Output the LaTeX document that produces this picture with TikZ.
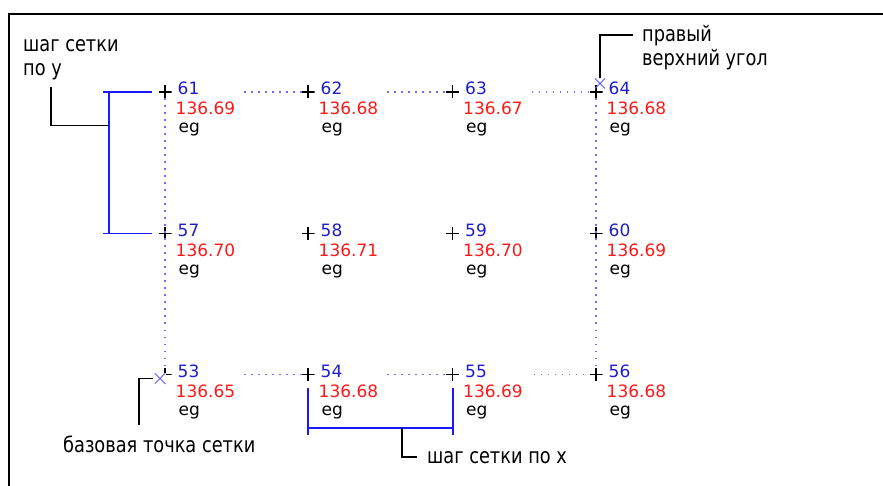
\documentclass[tikz,border=0pt]{standalone}
\usepackage{fontspec}
\setmainfont{DejaVu Sans}
\newfontfamily\annfont[FakeStretch=0.83]{DejaVu Sans}
\usetikzlibrary{calc}
\definecolor{gridblue}{RGB}{110,110,255}
\definecolor{numblue}{RGB}{30,30,205}
\definecolor{valred}{RGB}{255,25,25}
\definecolor{brblue}{RGB}{25,25,255}
\definecolor{xblue}{RGB}{95,95,255}
\begin{document}
\begin{tikzpicture}[x=1pt,y=-1pt,
  plusmark/.style={minimum size=13pt, inner sep=0pt, outer sep=0pt,
    path picture={\draw[black,line width=1.1pt]
      (path picture bounding box.north) -- (path picture bounding box.south)
      (path picture bounding box.west) -- (path picture bounding box.east);}},
  xmark/.style={minimum size=#1, inner sep=0pt, outer sep=0pt,
    path picture={\draw[xblue,line width=1pt]
      (path picture bounding box.north west) -- (path picture bounding box.south east)
      (path picture bounding box.north east) -- (path picture bounding box.south west);}},
  lbl/.style={inner sep=0pt, anchor=base west, font=\fontsize{17}{19}\selectfont},
  numlbl/.style={lbl, text=numblue},
  vallbl/.style={lbl, text=valred},
  eglbl/.style={lbl, text=black},
  anntext/.style={inner sep=0pt, anchor=base west, font=\annfont\fontsize{21.4}{24}\selectfont},
  gridline/.style={gridblue, line width=1.3pt, dash pattern=on 1.3pt off 5.7pt},
  bracket/.style={brblue, line width=1.3pt},
  leader/.style={black, line width=1.2pt},
]
\useasboundingbox (0,0) rectangle (883,486);
\fill[white] (0,0) rectangle (883,486);
% frame
\draw[line width=2pt] (9,486) -- (9,14) -- (883,14);

% grid points
\foreach \n/\x/\y/\v in {61/165/92/136.69, 62/308/92/136.68, 63/452.5/92/136.67, 64/596/92/136.68,
                         57/165/233.5/136.70, 58/308/233.5/136.71, 59/452.5/233.5/136.70, 60/596/233.5/136.69,
                         53/165/374.5/136.65, 54/308/374.5/136.68, 55/452.5/374.5/136.69, 56/596/374.5/136.68}{
  \node[plusmark] (p\n) at (\x,\y) {};
  \node[numlbl] (n\n) at (\x+12.5,\y+3) {\n};
  \node[vallbl] (v\n) at (\x+10.5,\y+23) {\v};
  \node[eglbl] (e\n) at (\x+13.5,\y+41) {eg};
}

% dotted grid lines
\draw[gridline, shorten <=9pt] (v61.east |- p61) -- (p62);
\draw[gridline, shorten <=9pt] (v62.east |- p62) -- (p63);
\draw[gridline, shorten <=9pt] (v63.east |- p63) -- (p64);
\draw[gridline, shorten <=9pt] (v53.east |- p53) -- (p54);
\draw[gridline, shorten <=9pt] (v54.east |- p54) -- (p55);
\draw[gridline, shorten <=11pt] (v55.east |- p55) -- (p56);
\draw[gridline] (p61) -- (p53);
\draw[gridline] (p64) -- (p56);

% corner marks
\node[xmark=11pt, fill=white] (x53) at (160,378.5) {};
\node[xmark=10pt] (x64) at (600,83.5) {};

% y step
\coordinate (ya1) at (103,92);
\coordinate (ya2) at (152,92);
\coordinate (yb1) at (103,233.5);
\coordinate (yb2) at (152,233.5);
\coordinate (ytop) at (109,92);
\coordinate (ybot) at (109,233.5);
\coordinate (ymid) at (109,125.7);
\coordinate (ylead) at (51,87);
\draw[bracket] (ya1) -- (ya2) (yb1) -- (yb2) (ytop) -- (ybot);
\draw[leader] (ylead) |- (ymid);
\node[anntext] (ys1) at (23,51.7) {шаг сетки};
\node[anntext] (ys2) at (23,76) {по у};

% x step
\coordinate (xa1) at (308,388);
\coordinate (xa2) at (308,435);
\coordinate (xb1) at (453,388);
\coordinate (xb2) at (453,435);
\coordinate (xl) at (308,428);
\coordinate (xr) at (453,428);
\coordinate (xmid) at (402,428);
\coordinate (xlead) at (417,457);
\draw[bracket] (xa1) -- (xa2) (xb1) -- (xb2) (xl) -- (xr);
\draw[leader] (xmid) |- (xlead);
\node[anntext] (xs) at (427,463) {шаг сетки по х};

% base point
\coordinate (blead) at (139,425);
\draw[leader, shorten <=1.5pt] (x53.west) -| (blead);
\node[anntext] (bp) at (63,452) {базовая точка сетки};

% top right corner
\coordinate (tlead) at (633,35);
\draw[leader] (x64.north) |- (tlead);
\node[anntext] (tr1) at (642,41.7) {правый};
\node[anntext] (tr2) at (642,65.7) {верхний угол};
\end{tikzpicture}
\end{document}
